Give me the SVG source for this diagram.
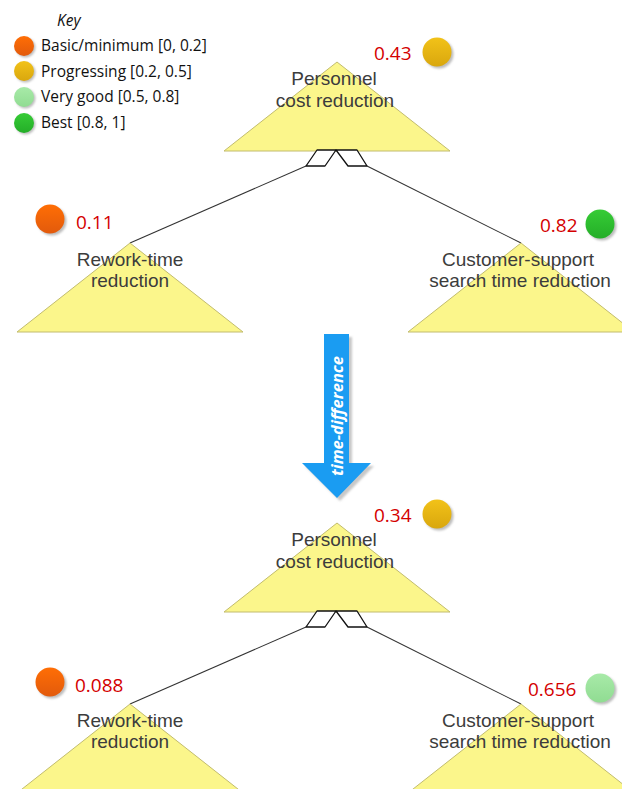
<svg xmlns="http://www.w3.org/2000/svg" width="622" height="789" viewBox="0 0 622 789">
  <defs>
    <linearGradient id="gOrange" x1="0" y1="0" x2="0" y2="1">
      <stop offset="0" stop-color="#FF6E05"/>
      <stop offset="1" stop-color="#E25A0C"/>
    </linearGradient>
    <linearGradient id="gGold" x1="0" y1="0" x2="0" y2="1">
      <stop offset="0" stop-color="#F2C218"/>
      <stop offset="1" stop-color="#D9A70E"/>
    </linearGradient>
    <linearGradient id="gLight" x1="0" y1="0" x2="0" y2="1">
      <stop offset="0" stop-color="#A8EAA8"/>
      <stop offset="1" stop-color="#90DC92"/>
    </linearGradient>
    <linearGradient id="gGreen" x1="0" y1="0" x2="0" y2="1">
      <stop offset="0" stop-color="#36CC36"/>
      <stop offset="1" stop-color="#24AE28"/>
    </linearGradient>
    <filter id="soft" x="-30%" y="-30%" width="160%" height="160%">
      <feGaussianBlur stdDeviation="1.2"/>
    </filter>
    <!-- goal nodes: yellow triangle with two centred label lines -->
    <style>
      .tri { fill: #FBF68B; stroke: #C2BC6E; stroke-width: 1; }
      .lbl { font-family: "Liberation Sans", Arial, sans-serif; font-size: 19px; fill: #3c3c3c; text-anchor: middle; }
      .val { font-family: "Open Sans", "Liberation Sans", sans-serif; font-size: 19px; fill: #D40000; }
      .key { font-family: "Open Sans", "Liberation Sans", sans-serif; font-size: 15.5px; fill: #111; }
      .shadow { fill: #BDBDBD; filter: url(#soft); }
      .link { stroke: #333; stroke-width: 1.1; fill: none; }
      .gate { stroke: #111; stroke-width: 1.3; fill: #fff; stroke-linejoin: round; }
    </style>
  </defs>

  <rect width="622" height="789" fill="#ffffff"/>

  <!-- legend -->
  <g id="legend">
    <text x="57" y="26" class="key" font-style="italic" font-size="16px">Key</text>
    <circle cx="25.5" cy="47.5" r="10" class="shadow"/>
    <circle cx="24" cy="46" r="10" fill="url(#gOrange)"/>
    <text x="41" y="51" class="key">Basic/minimum [0, 0.2]</text>
    <circle cx="25.5" cy="72.5" r="10" class="shadow"/>
    <circle cx="24" cy="71" r="10" fill="url(#gGold)"/>
    <text x="41" y="77" class="key">Progressing [0.2, 0.5]</text>
    <circle cx="25.5" cy="98.5" r="10" class="shadow"/>
    <circle cx="24" cy="97" r="10" fill="url(#gLight)"/>
    <text x="41" y="102" class="key">Very good [0.5, 0.8]</text>
    <circle cx="25.5" cy="124.5" r="10" class="shadow"/>
    <circle cx="24" cy="123" r="10" fill="url(#gGreen)"/>
    <text x="41" y="128" class="key">Best [0.8, 1]</text>
  </g>

  <!-- connectors: refinement links from each parent to its two children -->
  <g id="connectors">
    <polyline class="link" points="306,166 130,243"/>
    <polyline class="link" points="367,166 521,243"/>
    <polyline class="link" points="306,627 130,704"/>
    <polyline class="link" points="367,627 521,704"/>
  </g>

  <!-- upper tree -->
  <g id="personnel-before">
    <polygon class="tri" points="337,62 450,151 224,151"/>
    <polygon class="gate" points="317,150 336,150 325,166 306,166"/>
    <polygon class="gate" points="336,150 357,150 367,166 348,166"/>
    <text x="334" y="85" class="lbl">Personnel</text>
    <text x="335" y="107" class="lbl">cost reduction</text>
    <text x="374" y="60" class="val">0.43</text>
    <circle cx="439" cy="54" r="14.5" class="shadow"/>
    <circle cx="437" cy="52" r="14.5" fill="url(#gGold)"/>
  </g>

  <g id="rework-before">
    <polygon class="tri" points="130,243 243,332 17,332"/>
    <text x="130" y="266" class="lbl">Rework-time</text>
    <text x="130" y="287" class="lbl">reduction</text>
    <circle cx="52" cy="221" r="14.5" class="shadow"/>
    <circle cx="50" cy="219" r="14.5" fill="url(#gOrange)"/>
    <text x="76" y="229" class="val">0.11</text>
  </g>

  <g id="support-before">
    <polygon class="tri" points="521,243 634,332 408,332"/>
    <text x="518" y="266" class="lbl">Customer-support</text>
    <text x="520" y="287" class="lbl">search time reduction</text>
    <text x="540" y="232" class="val">0.82</text>
    <circle cx="602" cy="226" r="14.5" class="shadow"/>
    <circle cx="600" cy="224" r="14.5" fill="url(#gGreen)"/>
  </g>

  <!-- transition arrow -->
  <g id="time-difference">
    <polygon points="327,337 352,337 352,466 374,466 340,501 305,466 327,466" fill="#C8C8C8" filter="url(#soft)"/>
    <polygon points="324,334 349,334 349,463 371,463 337,498 302,463 324,463" fill="#1A9CF2"/>
    <text x="0" y="0" transform="translate(342.5,416) rotate(-90)" text-anchor="middle" font-family="Open Sans, Liberation Sans, sans-serif" font-size="16.5px" font-weight="bold" font-style="italic" fill="#ffffff">time-difference</text>
  </g>

  <!-- lower tree -->
  <g id="personnel-after">
    <polygon class="tri" points="337,523 450,612 224,612"/>
    <polygon class="gate" points="317,611 336,611 325,627 306,627"/>
    <polygon class="gate" points="336,611 357,611 367,627 348,627"/>
    <text x="334" y="546" class="lbl">Personnel</text>
    <text x="335" y="568" class="lbl">cost reduction</text>
    <text x="374" y="522" class="val">0.34</text>
    <circle cx="439" cy="516" r="14.5" class="shadow"/>
    <circle cx="437" cy="514" r="14.5" fill="url(#gGold)"/>
  </g>

  <g id="rework-after">
    <polygon class="tri" points="130,704 243,793 17,793"/>
    <text x="130" y="727" class="lbl">Rework-time</text>
    <text x="130" y="748" class="lbl">reduction</text>
    <circle cx="52" cy="684" r="14.5" class="shadow"/>
    <circle cx="50" cy="682" r="14.5" fill="url(#gOrange)"/>
    <text x="75" y="692" class="val">0.088</text>
  </g>

  <g id="support-after">
    <polygon class="tri" points="521,704 634,793 408,793"/>
    <text x="518" y="727" class="lbl">Customer-support</text>
    <text x="520" y="748" class="lbl">search time reduction</text>
    <text x="528" y="696" class="val">0.656</text>
    <circle cx="602" cy="690" r="14.5" class="shadow"/>
    <circle cx="600" cy="688" r="14.5" fill="url(#gLight)"/>
  </g>
</svg>
